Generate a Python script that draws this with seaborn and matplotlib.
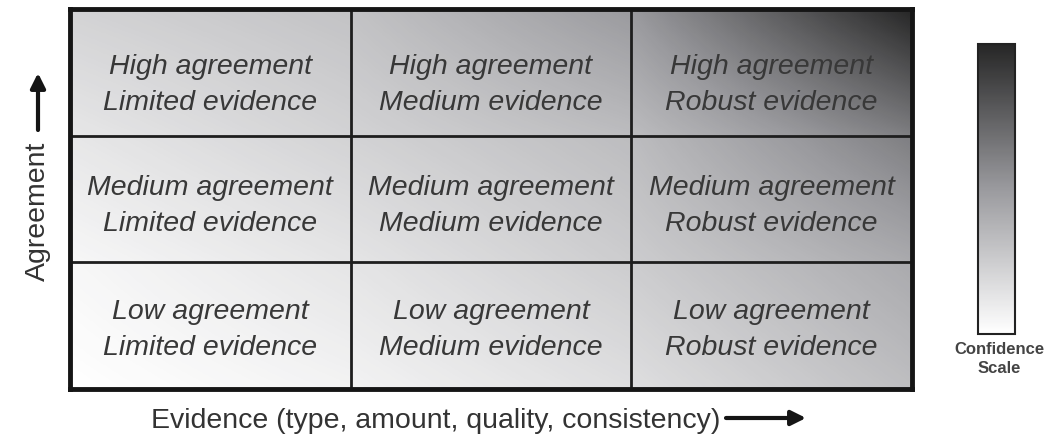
import numpy as np
import seaborn as sns
import matplotlib.pyplot as plt

# Dados ------------------------------------------------------------------
agreement = ['High agreement', 'Medium agreement', 'Low agreement']
evidence = ['Limited evidence', 'Medium evidence', 'Robust evidence']

# confiança média de cada célula (linhas: alto -> baixo acordo)
confidence = [
    [0.22, 0.36, 0.64],
    [0.13, 0.23, 0.41],
    [0.06, 0.15, 0.29],
]

# confiança nos cantos da grade (para o degradê)
corner_confidence = [
    [0.22, 0.30, 0.50, 1.00],
    [0.12, 0.22, 0.33, 0.62],
    [0.04, 0.13, 0.25, 0.42],
    [0.00, 0.06, 0.16, 0.32],
]

x_title = 'Evidence (type, amount, quality, consistency)'
y_title = 'Agreement'
scale_title = 'Confidence\nScale'

# Estilo -----------------------------------------------------------------
sns.set_style('white')
plt.rcParams['font.family'] = ['Liberation Sans', 'DejaVu Sans']

W, H = 1063, 439
fig = plt.figure(figsize=(W / 100, H / 100), dpi=100)
ax = fig.add_axes([70 / W, 1 - 390 / H, 842 / W, 380 / H])
cax = fig.add_axes([978 / W, 1 - 335 / H, 37 / W, 290 / H])

cmap = sns.blend_palette(['#ffffff', '#9a9a9e', '#262626'], as_cmap=True)

labels = np.array([[f'{a}\n{e}' for e in evidence] for a in agreement])

sns.heatmap(confidence, ax=ax, cmap=cmap, vmin=0, vmax=1,
            annot=labels, fmt='',
            annot_kws={'fontsize': 20.5, 'style': 'italic', 'color': '#383838',
                       'linespacing': 1.5},
            xticklabels=False, yticklabels=False,
            cbar_ax=cax, cbar_kws={'ticks': []})

# leve ajuste vertical dos textos (linha de cima fica mais baixa)
for t, dy in zip(ax.texts, [0.09] * 3 + [0.05] * 3 + [0.03] * 3):
    x, y = t.get_position()
    t.set_position((x, y + dy))

# degradê suave por cima das células
ax.imshow(corner_confidence, cmap=cmap, vmin=0, vmax=1,
          interpolation='bilinear', extent=(-0.5, 3.5, 3.5, -0.5),
          aspect='auto', zorder=1.5)
ax.set_xlim(0, 3)
ax.set_ylim(3, 0)

# linhas da grade
for k in [1, 2]:
    ax.axhline(k, color='#1e1e1e', lw=2, zorder=2.5)
    ax.axvline(k, color='#1e1e1e', lw=2, zorder=2.5)
for side in ax.spines.values():
    side.set_visible(True)
    side.set_linewidth(3.5)
    side.set_color('#151515')

# barra de escala
cbar = ax.collections[0].colorbar
cbar.outline.set_linewidth(1.5)
cbar.outline.set_edgecolor('#222222')
fig.text(999 / W, 1 - 359 / H, scale_title, ha='center', va='center',
         fontsize=12, fontweight='bold', color='#444444', linespacing=1.3)

# títulos dos eixos com setas
fig.text(436 / W, 1 - 421 / H, x_title, ha='center', va='center',
         fontsize=20.5, color='#333333')
fig.text(38 / W, 1 - 211 / H, y_title, ha='center', va='center',
         fontsize=20.5, color='#333333', rotation=90)

arrow = dict(arrowstyle='-|>', lw=3, color='#151515', mutation_scale=22,
             shrinkA=0, shrinkB=0)
ax.annotate('', xy=(806, H - 419), xytext=(726, H - 419),
            xycoords='figure pixels', textcoords='figure pixels',
            arrowprops=arrow)
ax.annotate('', xy=(38, H - 74), xytext=(38, H - 131),
            xycoords='figure pixels', textcoords='figure pixels',
            arrowprops=arrow)

plt.savefig('out.png', dpi=100)
